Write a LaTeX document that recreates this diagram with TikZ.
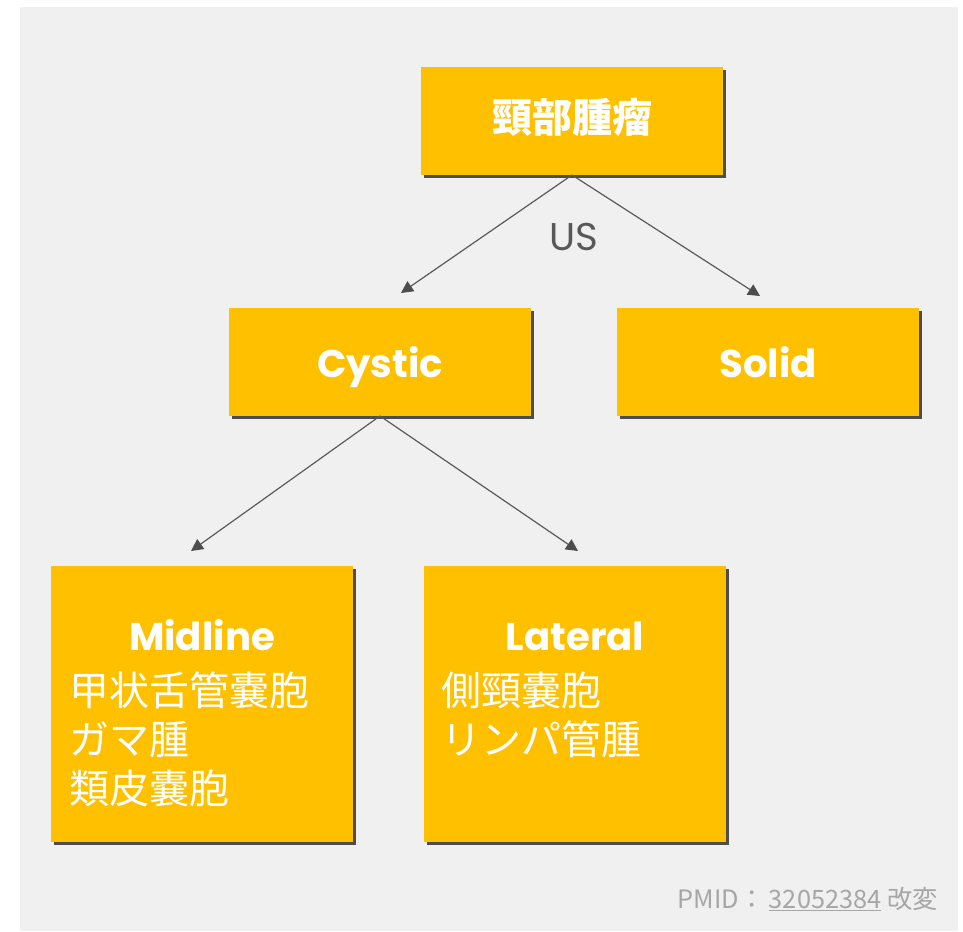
\documentclass[tikz,border=0pt]{standalone}
\usepackage{fontspec}
\newfontfamily\jpfont{Noto Sans CJK JP}
\newfontfamily\geofont{Poppins}
\usetikzlibrary{calc}
\usetikzlibrary{shadows}
\usetikzlibrary{positioning}
\usetikzlibrary{arrows.meta}

\definecolor{boxgold}{HTML}{FFC000}
\definecolor{shadowgray}{HTML}{4D4D4D}
\definecolor{linegray}{HTML}{595959}
\definecolor{panelgray}{HTML}{F0F0F0}
\definecolor{notegray}{HTML}{A6A6A6}

\begin{document}
\begin{tikzpicture}[x=0.75pt, y=-0.75pt,
        box/.style={fill=boxgold, inner sep=0pt, outer sep=0pt, minimum width=226.5pt, minimum height=81pt, text=white, text depth=0pt,
            drop shadow={shadow xshift=2.25pt, shadow yshift=-2.25pt, fill=shadowgray, opacity=1}},
        tallbox/.style={box, minimum height=207pt},
        heading/.style={text=white, inner sep=0pt, font=\geofont\bfseries\fontsize{29}{34}\selectfont},
        entries/.style={text=white, align=left, inner sep=0pt, font=\jpfont\fontsize{30}{36.75}\selectfont},
        branch/.style={draw=linegray, line width=0.9pt, -{Triangle[length=9pt, width=9pt, color=shadowgray]}}]
        \useasboundingbox (0,0) rectangle (963,931);
        \fill[white] (0,0) rectangle (963,931);
        \fill[panelgray] (20,7) rectangle (958,931);
        
        \node[box, text height=17pt, font=\jpfont\bfseries\fontsize{30}{36}\selectfont] (neck) at (572,121) {頸部腫瘤};
        
        \node[box, anchor=north east, heading] (cystic) at ($(neck.south) + (-41,133)$) {Cystic};
        \node[box, right=64.5pt of cystic, heading] (solid) {Solid};
        \coordinate (cystic in) at ($(cystic.north) + (21,-15)$);
        \coordinate (solid in) at ($(solid.north) + (-8,-12)$);
        
        \node[tallbox, anchor=north west] (midline) at ($(cystic.south west) + (-178,150)$) {};
        \node[tallbox, right=53.25pt of midline] (lateral) {};
        \coordinate (midline in) at ($(midline.north) + (-11,-15)$);
        \coordinate (lateral in) at ($(lateral.north) + (3,-15)$);
        
        % base = baseline of the last line
        \node[heading, anchor=base] (midline title) at ($(midline.north) + (0,84)$) {Midline};
        \node[entries, anchor=base west] (midline list) at ($(midline.north west) + (18,237)$) {甲状舌管嚢胞\\ガマ腫\\類皮嚢胞};
        
        \node[heading, anchor=base] (lateral title) at ($(lateral.north) + (0,84)$) {Lateral};
        \node[entries, anchor=base west] (lateral list) at ($(lateral.north west) + (17,188)$) {側頸嚢胞\\リンパ管腫};
        
        \node[text=linegray, font=\geofont\fontsize{29}{34}\selectfont] (us) at (574,237) {US};
        
        \node[anchor=base east, inner sep=0pt, text=notegray, font=\jpfont\fontsize{19}{22}\selectfont] (pmid) at (938,908) {PMID：\,\underline{32052384} 改変};
        
        \draw[branch] (neck.south) -- (cystic in);
        \draw[branch] (neck.south) -- (solid in);
        \draw[branch] (cystic.south) -- (midline in);
        \draw[branch] (cystic.south) -- (lateral in);
    \end{tikzpicture}
\end{document}
